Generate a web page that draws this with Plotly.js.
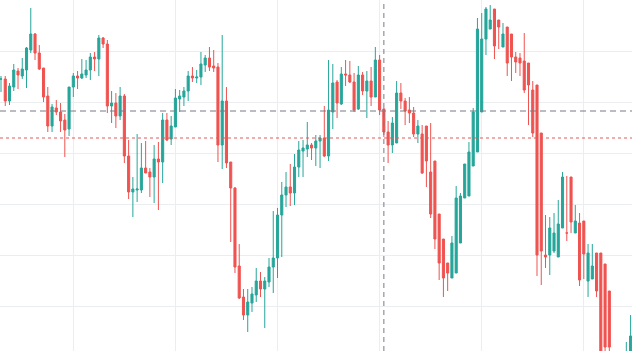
<!DOCTYPE html>
<html>
<head>
<meta charset="utf-8">
<script src="https://cdn.plot.ly/plotly-3.0.1.min.js"></script>
<style>html,body{margin:0;padding:0;background:#fff;}#chart{width:632px;height:351px;}</style>
</head>
<body>
<div id="chart"></div>
<script>
// Bar index (time) for each candle
const bars = Array.from({length: 149}, (_, i) => i + 1);

// Price values (arbitrary units)
const open = [
272,272,250,264,280,275,281,301,317,298, 283,255,225,243,239,231,222,264,275,273,
276,281,294,292,313,307,245,248,235,255, 195,159,161,161,183,179,174,192,189,231,
212,224,252,254,260,275,273,274,286,293, 285,284,206,250,189,163,85,54,36,48,
56,70,62,69,84,93,136,156,164,158, 184,200,202,206,203,210,213,195,239,269,
247,277,276,269,242,276,260,270,254,291, 242,219,206,208,258,250,241,238,217,217,
225,179,190,137,112,88,73,78,108,153, 155,185,199,239,312,322,342,331,304,324,
317,294,293,290,288,261,266,218,96,96, 100,94,123,118,174,118,128,130,70,72,
98,98,87,60,-19,-14,-19,-24,-14
];
const high = [
275,275,268,287,283,293,304,343,318,306, 283,264,247,251,248,237,264,278,280,292,
291,298,299,316,314,311,260,258,264,257, 211,174,217,208,210,183,206,209,238,238,
235,262,261,264,280,284,281,299,296,304, 301,288,316,264,189,164,107,62,62,64,
83,79,74,93,140,143,169,179,187,197, 210,211,229,208,216,216,245,291,287,271,
284,291,290,278,285,279,280,284,304,296, 243,230,234,270,268,253,254,244,231,226,
203,228,154,121,94,87,115,165,158,187, 209,243,333,338,344,346,336,327,328,318,
296,299,298,318,279,270,223,108,136,134, 138,151,179,175,147,146,138,118,107,107,
94,72,31,21,-9,-4,-9,9,36
];
const low = [
259,245,246,260,262,272,263,298,291,281, 249,219,219,236,219,194,215,254,262,272,
273,271,280,275,303,238,228,223,231,188, 152,134,149,158,178,154,148,141,168,210,
206,224,239,245,250,269,268,266,279,280, 279,189,182,183,109,78,52,31,19,39,
49,54,23,64,58,73,94,144,145,146, 174,174,194,191,185,183,194,190,222,233,
246,265,268,239,241,256,233,245,254,236, 214,188,198,227,242,226,228,214,208,177,
164,133,102,71,54,60,73,98,128,153, 173,195,234,308,296,324,292,302,304,275,
270,278,275,258,226,214,75,66,83,76, 98,118,123,110,118,118,65,72,54,76,
54,-29,-24,-29,-49,-39,-44,-29,-29
];
const close = [
272,250,265,281,276,282,303,317,298,282, 254,225,244,239,230,221,264,275,273,277,
281,294,292,313,307,245,248,235,255,195, 159,162,162,183,178,174,192,189,231,211,
225,253,255,260,275,273,274,287,293,284, 283,206,250,188,163,84,53,36,49,57,
70,62,70,84,93,136,156,164,158,184, 201,203,206,203,210,213,195,241,268,248,
277,276,269,241,276,260,270,254,291,241, 219,206,228,258,250,240,238,217,225,178,
190,137,112,88,73,78,108,153,155,187, 199,239,322,312,342,331,305,324,317,288,
294,289,288,261,266,218,96,100,94,123, 118,127,174,118,129,130,71,97,98,85,
60,-19,4,4,-39,-29,-39,-4,15
];

const UP = '#26a69a', DOWN = '#ef5350';

const trace = {
  type: 'candlestick',
  x: bars, open: open, high: high, low: low, close: close,
  increasing: {line: {color: UP, width: 1}, fillcolor: UP},
  decreasing: {line: {color: DOWN, width: 1}, fillcolor: DOWN},
  whiskerwidth: 0,
  hoverinfo: 'skip',
  showlegend: false
};

const layout = {
  width: 632, height: 351,
  margin: {l: 0, r: 0, t: 0, b: 0, pad: 0},
  paper_bgcolor: '#ffffff', plot_bgcolor: '#ffffff',
  showlegend: false,
  boxgap: 0.3,
  xaxis: {
    range: [0.765, 149.33],
    rangeslider: {visible: false},
    showticklabels: false, ticks: '',
    tick0: 18, dtick: 24,
    showgrid: true, gridcolor: '#ebedf1', gridwidth: 1,
    zeroline: false, showline: false, fixedrange: true
  },
  yaxis: {
    range: [0, 351],
    showticklabels: false, ticks: '',
    tick0: 45, dtick: 51,
    showgrid: true, gridcolor: '#ebedf1', gridwidth: 1,
    zeroline: false, showline: false, fixedrange: true
  },
  shapes: [
    {type: 'line', xref: 'paper', x0: 0, x1: 1, yref: 'y', y0: 240, y1: 240,
     line: {color: '#787b86', width: 1, dash: '6px,4px'}},
    {type: 'line', xref: 'paper', x0: 0, x1: 1, yref: 'y', y0: 213, y1: 213,
     line: {color: '#e05a5a', width: 1, dash: 'dot'}},
    {type: 'line', xref: 'x', x0: 91, x1: 91, yref: 'paper', y0: 0, y1: 1,
     line: {color: '#787b86', width: 1, dash: '5px,4px'}}
  ]
};

Plotly.newPlot('chart', [trace], layout, {displayModeBar: false, staticPlot: true});
</script>
</body>
</html>
